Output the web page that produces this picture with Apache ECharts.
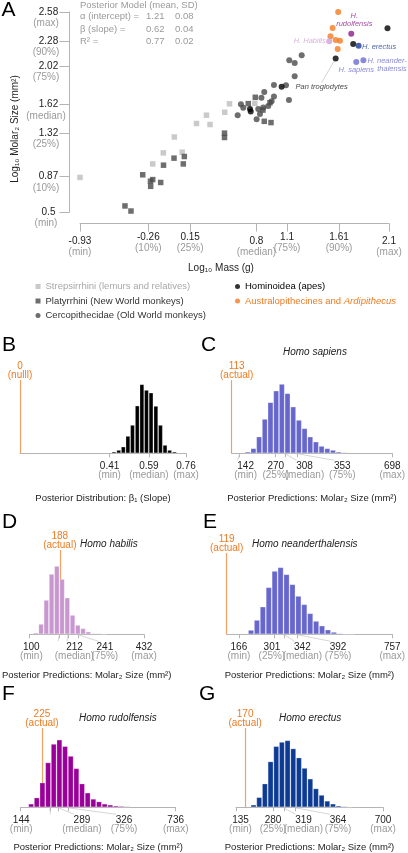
<!DOCTYPE html>
<html>
<head>
<meta charset="utf-8">
<title>Molar size vs body mass</title>
<script src="https://cdn.jsdelivr.net/npm/echarts@6.0.0/dist/echarts.min.js"></script>
<style>
html,body{margin:0;padding:0;background:#ffffff;}
#chart{width:408px;height:853px;}
</style>
</head>
<body>
<div id="chart"></div>
<script>
// ===================== Panel A data =====================
const massTicks = [-0.93, -0.26, 0.15, 0.8, 1.1, 1.61, 2.1];
const massTickPct = ['(min)', '(10%)', '(25%)', '(median)', '(75%)', '(90%)', '(max)'];
const molarTicks = [0.5, 0.87, 1.32, 1.62, 2.02, 2.28, 2.58];
const molarTickPct = ['(min)', '(10%)', '(25%)', '(median)', '(75%)', '(90%)', '(max)'];

const strepsirrhini = [[-0.93,0.86],[-0.217,1.00],[-0.113,1.115],[0.072,1.122],[-0.005,1.28],[0.212,1.42],[0.345,1.41],[0.31,1.507],[0.489,1.537],[0.536,1.625],[0.784,1.63]];
const platyrrhini = [[-0.489,0.563],[-0.43,0.51],[-0.315,0.887],[-0.217,0.837],[-0.239,0.82],[-0.237,0.767],[-0.139,0.807],[-0.111,0.987],[-0.008,1.06],[0.093,1.077],[0.083,1.00],[0.487,1.32],[0.487,1.275],[0.789,1.693],[0.72,1.627],[0.933,1.637],[0.877,1.443],[0.943,1.43],[0.864,1.56]];
const cercopithecidae = [[1.244,2.13],[1.122,2.077],[1.175,2.05],[1.175,1.913],[0.972,1.82],[1.09,1.817],[0.877,1.747],[1.119,1.665],[0.849,1.687],[0.972,1.70],[0.949,1.653],[0.916,1.603],[0.867,1.587],[0.818,1.57],[0.835,1.52],[0.802,1.465],[0.648,1.62],[0.671,1.583],[0.616,1.507]];
const hominoidea = [[2.085,2.41],[1.749,2.247],[1.577,2.097],[1.047,1.803],[0.737,1.57],[0.744,1.545]];
const hominoideaNames = ['', '', 'Pan troglodytes', '', '', ''];
const australopithecines = [[1.602,2.58],[1.547,2.413],[1.526,2.327],[1.577,2.29],[1.619,2.28],[1.597,2.195]];
const homoNames = ['H. Habilis', 'H. rudolfensis', 'H. erectus', 'H. sapiens', 'H. neanderthalensis'];
const homoPoints = [[1.514,2.275],[1.73,2.353],[1.802,2.23],[1.779,2.06],[1.849,2.077]];

const modelHeader = 'Posterior Model (mean, SD)';
const modelTerms = ['α (intercept) =', 'β (slope) =', 'R² ='];
const modelMeans = [1.21, 0.62, 0.77];
const modelSDs = [0.08, 0.04, 0.02];

// ===================== Panels B–G data =====================
const quartPct = ['(min)', '(25%)', '(median)', '(75%)', '(max)'];

const bBins = [0.430,0.452,0.473,0.494,0.515,0.537,0.558,0.579,0.600,0.622,0.643,0.664,0.685,0.707];
const bCounts = [5,10,20,52,85,143,207,190,182,142,85,25,10,5];
const bTicks = [0.41, 0.59, 0.76];
const bTickPct = ['(min)', '(median)', '(max)'];
const bNull = 0;

const cBins = [171.5,192.2,212.9,233.6,254.3,275.0,295.7,316.4,337.1,357.8,378.5,399.2,419.9,440.6,461.3,482.0,502.7,523.4];
const cCounts = [5,15,50,103,153,188,208,180,140,100,75,50,35,22,15,10,5,3];
const cTicks = [142, 270, 308, 353, 698];
const cActual = 113;

const dBins = [118.5,133.7,148.9,164.1,179.3,194.5,209.7,224.9,240.1,255.3,270.5,285.7,300.9,316.1];
const dCounts = [5,31,103,181,205,166,110,58,28,18,8,3,3,1];
const dTicks = [100, 187, 212, 241, 432];
const dActual = 188;

const eBins = [212.8,235.6,258.4,281.2,304.0,326.8,349.6,372.4,395.2,418.0,440.8,463.6,486.4,509.2,532.0,554.8,577.6,600.4];
const eCounts = [13,43,83,141,190,201,180,150,115,90,63,40,26,14,7,3,2,1];
const eTicks = [166, 301, 342, 392, 757];
const eActual = 119;

const fBins = [183.8,205.4,227.0,248.6,270.2,291.8,313.4,335.0,356.6,378.2,399.8,421.4,443.0,464.6,486.2,507.8,529.4,551.0];
const fCounts = [11,30,76,138,195,208,188,158,120,73,45,26,18,11,8,5,4,3];
const fTicks = [144, 255, 289, 326, 736];
const fActual = 225;

const gBins = [202.4,224.2,246.0,267.8,289.6,311.4,333.2,355.0,376.8,398.6,420.4,442.2,464.0,485.8,507.6,529.4,551.2,573.0];
const gCounts = [8,31,73,141,188,201,206,181,153,121,88,58,38,20,11,5,3,2];
const gTicks = [135, 280, 319, 364, 700];
const gActual = 170;

// ===================== styles / layout =====================
const FONT = '"Liberation Sans", Arial, Helvetica, sans-serif';
const DARK = '#222222', GRAY = '#9a9a9a', AXIS = '#b4b4b4';
const ORANGE = '#ef7b22', ORANGE_LINE = '#f2a066';

const panels = [
  {letter:'B', bins:bBins, counts:bCounts, ticks:bTicks, pct:bTickPct, ref:bNull, refWord:'(nulll)', color:'#000000',
   title:'', name:'Posterior Distribution: β\u2081 (Slope)',
   L:{left:20, width:166, top:380, axisY:453.3, nameGap:40.5, labelDx:[0,0,0], refPad:0, letterX:2, letterY:345.7}},
  {letter:'C', bins:cBins, counts:cCounts, ticks:cTicks, pct:quartPct, ref:cActual, refWord:'(actual)', color:'#6666cc',
   title:'Homo sapiens', name:'Posterior Predictions: Molar\u2082 Size (mm\u00b2)',
   L:{left:231.7, width:161.6, top:380, axisY:453.3, nameGap:40.5, labelDx:[6,1,19.4,45,0], refPad:10, letterX:201, letterY:345.7, titleX:283, titleY:352}},
  {letter:'D', bins:dBins, counts:dCounts, ticks:dTicks, pct:quartPct, ref:dActual, refWord:'(actual)', color:'#c997cf',
   title:'Homo habilis', name:'Posterior Predictions: Molar\u2082 Size (mm\u00b2)',
   L:{left:22, width:122, top:550, axisY:634.3, nameGap:36.4, labelDx:[2,-9.5,6.8,28.5,0], refPad:0, letterX:2, letterY:522.5, titleX:80, titleY:544}},
  {letter:'E', bins:eBins, counts:eCounts, ticks:eTicks, pct:quartPct, ref:eActual, refWord:'(actual)', color:'#6666cc',
   title:'Homo neanderthalensis', name:'Posterior Predictions: Molar\u2082 Size (mm\u00b2)',
   L:{left:226.7, width:167.3, top:553, axisY:634.3, nameGap:36.4, labelDx:[0,-2,18,41,0], refPad:0, letterX:203, letterY:522.5, titleX:252, titleY:544}},
  {letter:'F', bins:fBins, counts:fCounts, ticks:fTicks, pct:quartPct, ref:fActual, refWord:'(actual)', color:'#990099',
   title:'Homo rudolfensis', name:'Posterior Predictions: Molar\u2082 Size (mm\u00b2)',
   L:{left:20.7, width:155, top:728, axisY:809.3, nameGap:34.7, labelDx:[0.5,-7.3,23.3,55.7,0], refPad:0, letterX:2, letterY:694.7, titleX:79, titleY:718.3}},
  {letter:'G', bins:gBins, counts:gCounts, ticks:gTicks, pct:quartPct, ref:gActual, refWord:'(actual)', color:'#0d3b94',
   title:'Homo erectus', name:'Posterior Predictions: Molar\u2082 Size (mm\u00b2)',
   L:{left:236, width:147, top:728, axisY:809.3, nameGap:34.7, labelDx:[4.5,-0.7,19.6,42.4,0], refPad:0, letterX:199, letterY:694.7, titleX:279, titleY:718.3}}
];

function nearestIndex(arr, v) {
  let best = 0, bd = Infinity;
  arr.forEach((a, i) => { const d = Math.abs(a - v); if (d < bd) { bd = d; best = i; } });
  return best;
}

// ===================== build option =====================
const grids = [{left:80, width:309, top:4, height:208}];
const xAxes = [{
  gridIndex:0, type:'value', min:massTicks[0], max:massTicks[massTicks.length-1], offset:11.5,
  splitLine:{show:false},
  axisLine:{onZero:false, lineStyle:{color:AXIS, width:1}},
  axisTick:{show:true, customValues:massTicks, length:8, lineStyle:{color:AXIS}},
  axisLabel:{
    customValues:massTicks, margin:8.5, showMinLabel:true, showMaxLabel:true, hideOverlap:false,
    formatter:function(v){
      const i = nearestIndex(massTicks, v);
      const low = (i === 0 || i === 3 || i === 6) ? '{s| }\n' : '';
      return low + '{n|' + massTicks[i] + '}\n{p|' + massTickPct[i] + '}';
    },
    rich:{n:{fontSize:10, color:DARK, lineHeight:11, fontFamily:FONT},
          p:{fontSize:10, color:GRAY, lineHeight:11, fontFamily:FONT},
          s:{fontSize:1, lineHeight:3.4}}
  }
}];
const yAxes = [{
  gridIndex:0, type:'value', min:molarTicks[0], max:molarTicks[molarTicks.length-1], offset:10.5,
  splitLine:{show:false},
  axisLine:{onZero:false, lineStyle:{color:AXIS, width:1}},
  axisTick:{show:true, customValues:molarTicks, length:10, lineStyle:{color:AXIS}},
  axisLabel:{
    customValues:molarTicks, margin:23.5, align:'center', showMinLabel:true, showMaxLabel:true, hideOverlap:false,
    formatter:function(v){
      const i = nearestIndex(molarTicks, v);
      return '{e| }\n{n|' + molarTicks[i] + '}\n{p|' + molarTickPct[i] + '}';
    },
    rich:{e:{fontSize:1, lineHeight:13},
          n:{fontSize:10, color:DARK, lineHeight:10, padding:[0,0,0,5], fontFamily:FONT},
          p:{fontSize:10, color:GRAY, lineHeight:13, fontFamily:FONT}}
  }
}];

const homoStyle = {
  'H. Habilis': {color:'#cfa0d4', label:{position:'left', distance:0.5}},
  'H. rudolfensis': {color:'#8c1a8c', label:{position:'top', distance:2.5, offset:[3,0], formatter:'H.\nrudolfensis'}},
  'H. erectus': {color:'#1c3c96', label:{position:'right', distance:0.5, offset:[0,1]}},
  'H. sapiens': {color:'#6b6bd0', label:{position:'bottom', distance:0.5}},
  'H. neanderthalensis': {color:'#6b6bd0', label:{position:'right', distance:1, offset:[0,5],
      formatter:'{r|H. neander-}\n{r|thalensis}',
      rich:{r:{align:'right', fontSize:7.5, fontStyle:'italic', color:'#6b6bd0', lineHeight:8, fontFamily:FONT}}}}
};

const panIdx = hominoideaNames.indexOf('Pan troglodytes');

const series = [
  {name:'Strepsirrhini (lemurs and relatives)', type:'scatter', xAxisIndex:0, yAxisIndex:0, data:strepsirrhini,
   symbol:'rect', symbolSize:5.5, itemStyle:{color:'#bdbdbd'}, z:2},
  {name:'Platyrrhini (New World monkeys)', type:'scatter', xAxisIndex:0, yAxisIndex:0, data:platyrrhini,
   symbol:'rect', symbolSize:5.5, itemStyle:{color:'#4a4a4a'}, z:3},
  {name:'Cercopithecidae (Old World monkeys)', type:'scatter', xAxisIndex:0, yAxisIndex:0, data:cercopithecidae,
   symbol:'circle', symbolSize:6, itemStyle:{color:'#4a4a4a'}, z:3},
  {name:'Hominoidea (apes)', type:'scatter', xAxisIndex:0, yAxisIndex:0, symbol:'circle', symbolSize:6,
   itemStyle:{color:'#000000'}, z:4,
   data:hominoidea.map((p, i) => i === panIdx ? {
     value:p, name:hominoideaNames[i],
     label:{show:true, formatter:hominoideaNames[i], position:'bottom', distance:5, fontSize:7.5, fontStyle:'italic', color:'#111', fontFamily:FONT},
     labelLine:{show:true, lineStyle:{color:'#b8b8b8', width:0.6}}
   } : p),
   labelLayout:function(params){ return params.dataIndex === panIdx ? {dx:-14, dy:16} : {}; },
   labelLine:{show:true, lineStyle:{color:'#b8b8b8', width:0.6}}},
  {name:'Australopithecines and Ardipithecus', type:'scatter', xAxisIndex:0, yAxisIndex:0, data:australopithecines,
   symbol:'circle', symbolSize:6, itemStyle:{color:'#f47a20'}, z:4},
  {name:'Homo', type:'scatter', xAxisIndex:0, yAxisIndex:0, symbol:'circle', symbolSize:6, z:5,
   data:homoNames.map((n, i) => {
     const st = homoStyle[n];
     return {name:n, value:homoPoints[i], itemStyle:{color:st.color},
       label:Object.assign({show:true, formatter:n, fontSize:7.5, fontStyle:'italic', color:st.color, lineHeight:8, fontFamily:FONT}, st.label)};
   })}
];

panels.forEach((p, k) => {
  const gi = k + 1, L = p.L;
  const h = L.axisY - L.top;
  const xmin = Math.min(p.ref, p.ticks[0]);
  const xmax = p.ticks[p.ticks.length - 1];
  const pxPerUnit = L.width / (xmax - xmin);
  const labelVals = p.ticks.map((t, i) => Math.min(xmax, t + L.labelDx[i] / pxPerUnit));
  grids.push({left:L.left, width:L.width, top:L.top, height:h});
  xAxes.push({
    gridIndex:gi, type:'value', min:xmin, max:xmax, splitLine:{show:false},
    axisLine:{onZero:false, lineStyle:{color:AXIS, width:1}},
    axisTick:{show:true, customValues:p.ticks, length:4, lineStyle:{color:AXIS}},
    axisLabel:{
      customValues:labelVals, margin:8, showMinLabel:true, showMaxLabel:true, hideOverlap:false,
      formatter:function(v){
        const i = nearestIndex(labelVals, v);
        return '{n|' + p.ticks[i] + '}\n{p|' + p.pct[i] + '}';
      },
      rich:{n:{fontSize:10, color:DARK, lineHeight:9, fontFamily:FONT},
            p:{fontSize:10, color:GRAY, lineHeight:9, fontFamily:FONT}}
    },
    name:p.name, nameLocation:'middle', nameGap:L.nameGap,
    nameTextStyle:{fontSize:9.5, color:DARK, fontFamily:FONT}
  });
  yAxes.push({gridIndex:gi, type:'value', min:0, max:3 * h, show:false, splitLine:{show:false}});
  series.push({
    name:'hist' + p.letter, type:'bar', xAxisIndex:gi, yAxisIndex:gi,
    data:p.bins.map((b, i) => [b, p.counts[i]]),
    barCategoryGap:'0%', barGap:'0%', z:3,
    itemStyle:{color:p.color, borderColor:'rgba(255,255,255,0.3)', borderWidth:0.8},
    markLine:{
      silent:true, symbol:'none', z:1, animation:false,
      lineStyle:{color:ORANGE_LINE, type:'solid', width:1.2},
      label:{show:true, position:'end', distance:1, color:ORANGE, fontSize:10, lineHeight:8.5,
             fontFamily:FONT, padding:[0,0,0,L.refPad],
             formatter:String(p.ref) + '\n' + p.refWord},
      data:[{xAxis:p.ref}]
    }
  });
});

const option = {
  animation:false,
  backgroundColor:'#ffffff',
  textStyle:{fontFamily:FONT},
  grid:grids, xAxis:xAxes, yAxis:yAxes, series:series,
  legend:[
    {left:35.5, top:281, orient:'vertical', padding:0, itemWidth:5, itemHeight:5, itemGap:3.5, selectedMode:false,
     textStyle:{fontSize:9.5, lineHeight:11, color:'#333333', fontFamily:FONT},
     data:[{name:'Strepsirrhini (lemurs and relatives)', textStyle:{color:'#a8a8a8'}},
           {name:'Platyrrhini (New World monkeys)'},
           {name:'Cercopithecidae (Old World monkeys)'}]},
    {left:235, top:281, orient:'vertical', padding:0, itemWidth:5, itemHeight:5, itemGap:3.5, selectedMode:false,
     textStyle:{fontSize:9.5, lineHeight:11, color:'#000000', fontFamily:FONT,
       rich:{o:{color:ORANGE, fontSize:9.5, fontFamily:FONT}, i:{color:ORANGE, fontSize:9.5, fontStyle:'italic', fontFamily:FONT}}},
     formatter:function(n){ return n === 'Australopithecines and Ardipithecus' ? '{o|Australopithecines and }{i|Ardipithecus}' : n; },
     data:[{name:'Hominoidea (apes)'}, {name:'Australopithecines and Ardipithecus'}]}
  ]
};

const chart = echarts.init(document.getElementById('chart'), null, {renderer:'canvas', width:408, height:853});
chart.setOption(option);

// ===================== text annotations & label leader lines =====================
function txt(x, y, text, o) {
  o = o || {};
  return {type:'text', x:x, y:y, rotation:o.rotation || 0, silent:true, z:10,
    style:{text:text, fill:o.color || DARK, fontSize:o.size || 10, fontFamily:FONT,
      fontStyle:o.italic ? 'italic' : 'normal', align:o.align || 'left', verticalAlign:'middle'}};
}
const gfx = [];
gfx.push(txt(1.5, 9.8, 'A', {size:21, color:'#000'}));
gfx.push(txt(80, 5.7, modelHeader, {size:9.5, color:GRAY}));
const rowY = [16.8, 29.2, 41.8];
modelTerms.forEach((t, i) => {
  gfx.push(txt(80, rowY[i], t, {size:9.5, color:GRAY}));
  gfx.push(txt(146, rowY[i], modelMeans[i].toFixed(2), {size:9.5, color:GRAY}));
  gfx.push(txt(175, rowY[i], modelSDs[i].toFixed(2), {size:9.5, color:GRAY}));
});
gfx.push(txt(15, 129, 'Log\u2081\u2080 Molar\u2082 Size (mm\u00b2)', {size:10, rotation:Math.PI / 2, align:'center'}));
gfx.push(txt(221, 268.3, 'Log\u2081\u2080 Mass (g)', {size:10, align:'center'}));

panels.forEach((p, k) => {
  const L = p.L;
  gfx.push(txt(L.letterX, L.letterY, p.letter, {size:21, color:'#000'}));
  if (p.title) gfx.push(txt(L.titleX, L.titleY, p.title, {size:10, italic:true}));
  p.ticks.forEach((t, i) => {
    const dx = L.labelDx[i];
    if (Math.abs(dx) >= 6) {
      const pt = chart.convertToPixel({gridIndex:k + 1}, [t, 0]);
      const ex = pt[0] + dx - Math.sign(dx) * 8;
      gfx.push({type:'line', silent:true, z:9,
        shape:{x1:pt[0], y1:pt[1] + 0.5, x2:ex, y2:pt[1] + 7},
        style:{stroke:'#c4c4c4', lineWidth:0.7}});
    }
  });
});
chart.setOption({graphic:gfx});
</script>
</body>
</html>
